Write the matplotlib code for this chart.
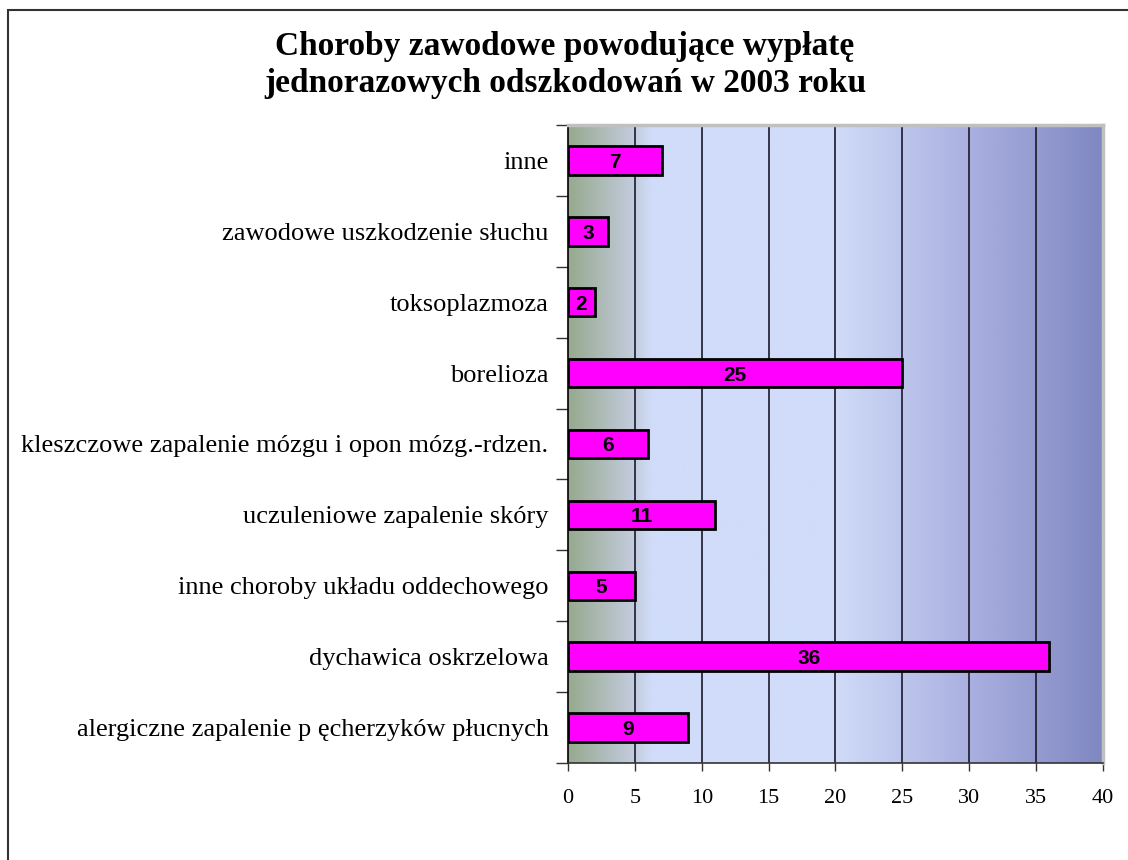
import matplotlib
matplotlib.use("Agg")
import matplotlib.pyplot as plt
import numpy as np
from matplotlib.colors import LinearSegmentedColormap
from matplotlib.patches import Rectangle

categories = [
    "alergiczne zapalenie p ęcherzyków płucnych",
    "dychawica oskrzelowa",
    "inne choroby układu oddechowego",
    "uczuleniowe zapalenie skóry",
    "kleszczowe zapalenie mózgu i opon mózg.-rdzen.",
    "borelioza",
    "toksoplazmoza",
    "zawodowe uszkodzenie słuchu",
    "inne",
]
values = [9, 36, 5, 11, 6, 25, 2, 3, 7]
xticks = [0, 5, 10, 15, 20, 25, 30, 35, 40]
title = "Choroby zawodowe powodujące wypłatę\njednorazowych odszkodowań w 2003 roku"

W, H = 1128, 860
fig = plt.figure(figsize=(W / 100, H / 100), dpi=100)
fig.patch.set_facecolor("white")

# figure border
fig.patches.append(Rectangle((8 / W, -0.1), 1.2, 1 - 10 / H + 0.1, transform=fig.transFigure,
                             fill=False, edgecolor="#333333", linewidth=1.5))

ax = fig.add_axes([568 / W, 1 - 763 / H, (1103 - 568) / W, (763 - 125) / H])

# gradient background
stops = [(0.0, "#97a98f"), (0.125, "#c4cde0"), (0.155, "#d0dcf9"),
         (0.5, "#d0dcf9"), (0.75, "#aab0e0"), (1.0, "#8088c2")]
cmap = LinearSegmentedColormap.from_list("bg", stops)
grad = np.linspace(0, 1, 512).reshape(1, -1)
ax.imshow(grad, cmap=cmap, aspect="auto", extent=(0, 40, -0.5, len(categories) - 0.5),
          zorder=0, interpolation="bilinear")

ypos = np.arange(len(categories))
ax.barh(ypos, values, height=0.4, color="#ff00ff", edgecolor="black", linewidth=2, zorder=3)
for y, v in zip(ypos, values):
    ax.text(v / 2, y, str(v), ha="center", va="center_baseline", fontsize=15, fontweight="bold",
            family="Liberation Sans", zorder=4)

ax.set_xlim(0, 40)
ax.set_ylim(-0.5, len(categories) - 0.5)
ax.set_xticks(xticks)
ax.set_xticklabels([str(t) for t in xticks], family="Liberation Serif", fontsize=16)
ax.set_yticks(ypos)
ax.set_yticklabels(categories, family="Liberation Serif", fontsize=19)
ax.set_yticks(np.arange(-0.5, len(categories), 1.0), minor=True)
ax.tick_params(axis="y", which="major", length=0, pad=14)
ax.tick_params(axis="y", which="minor", length=9, width=1, color="#333333")
ax.tick_params(axis="x", which="major", length=6, width=1, direction="out", pad=13, color="#333333")

for x in xticks[1:-1]:
    ax.axvline(x, color="#1a1a2a", linewidth=1.2, zorder=1)

ax.spines["left"].set_color("black")
ax.spines["bottom"].set_color("#333333")
ax.spines["top"].set_color("#c0c0c0")
ax.spines["right"].set_color("#c0c0c0")
ax.spines["top"].set_linewidth(2.5)
ax.spines["right"].set_linewidth(2.5)
ax.spines["left"].set_linewidth(1.2)
ax.spines["bottom"].set_linewidth(1.2)

fig.text(565 / W, 1 - 65 / H, title, ha="center", va="center", family="Liberation Serif",
         fontsize=24, fontweight="bold", linespacing=1.22)

fig.savefig("out.png", dpi=100)
